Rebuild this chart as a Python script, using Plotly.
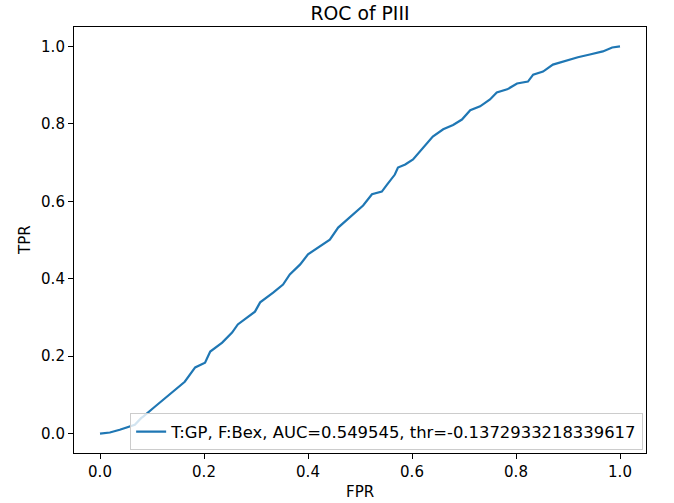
import plotly.graph_objects as go

fpr = [0.000, 0.019, 0.038, 0.054, 0.067, 0.079, 0.083, 0.106, 0.144, 0.163, 0.183, 0.202,
       0.212, 0.235, 0.254, 0.265, 0.298, 0.308, 0.333, 0.352, 0.365, 0.385, 0.400, 0.423,
       0.442, 0.458, 0.475, 0.494, 0.506, 0.523, 0.542, 0.552, 0.567, 0.573, 0.587, 0.602,
       0.610, 0.621, 0.640, 0.660, 0.679, 0.696, 0.712, 0.731, 0.750, 0.763, 0.783, 0.802,
       0.823, 0.833, 0.852, 0.871, 0.898, 0.919, 0.942, 0.967, 0.985, 1.000]
tpr = [0.000, 0.003, 0.010, 0.018, 0.023, 0.040, 0.044, 0.070, 0.114, 0.134, 0.171, 0.183,
       0.212, 0.235, 0.261, 0.282, 0.315, 0.339, 0.364, 0.385, 0.411, 0.437, 0.463, 0.484,
       0.501, 0.532, 0.553, 0.574, 0.589, 0.618, 0.625, 0.643, 0.669, 0.687, 0.695, 0.708,
       0.720, 0.736, 0.767, 0.786, 0.797, 0.811, 0.835, 0.845, 0.863, 0.881, 0.889, 0.904,
       0.909, 0.927, 0.935, 0.953, 0.964, 0.972, 0.979, 0.987, 0.997, 1.000]
label = "T:GP, F:Bex, AUC=0.549545, thr=-0.1372933218339617"
ticks = [0.0, 0.2, 0.4, 0.6, 0.8, 1.0]
tick_text = ["0.0", "0.2", "0.4", "0.6", "0.8", "1.0"]

W, H = 674, 503
L, R, T, B = 74, 646, 27, 453

fig = go.Figure()
fig.add_trace(go.Scatter(x=fpr, y=tpr, mode="lines", name=label,
                         line=dict(color="#1f77b4", width=2.2)))

axis_common = dict(range=[-0.05, 1.05], showgrid=False, zeroline=False, automargin=False,
                   showline=True, linecolor="black", linewidth=1.1, mirror=True,
                   ticks="outside", ticklen=5, tickwidth=1.1, tickcolor="black",
                   tickvals=ticks, ticktext=tick_text,
                   tickfont=dict(size=15, color="black"))

fig.update_layout(
    width=W, height=H,
    margin=dict(l=L, r=W - R, t=T, b=H - B, autoexpand=False),
    paper_bgcolor="white", plot_bgcolor="white",
    font=dict(family="DejaVu Sans", color="black", size=15),
    title=dict(text="ROC of PIII", x=0.5, xref="paper", xanchor="center",
               y=1 - 13 / H, yref="container", yanchor="middle",
               font=dict(size=18.8, color="black")),
    xaxis=axis_common,
    yaxis=axis_common,
    showlegend=True,
    legend=dict(x=0.995, y=0.006, xanchor="right", yanchor="bottom",
                bgcolor="rgba(255,255,255,0.8)", bordercolor="#cccccc", borderwidth=1,
                font=dict(size=16.4, color="black"), itemwidth=30),
    annotations=[
        dict(text="FPR", xref="paper", yref="paper", x=0.5, y=-(492 - B) / (B - T),
             xanchor="center", yanchor="middle", showarrow=False, font=dict(size=15)),
        dict(text="TPR", xref="paper", yref="paper", x=-(L - 25) / (R - L), y=0.5,
             xanchor="center", yanchor="middle", showarrow=False, textangle=-90,
             font=dict(size=15)),
    ],
)

fig.write_html("out.html")
